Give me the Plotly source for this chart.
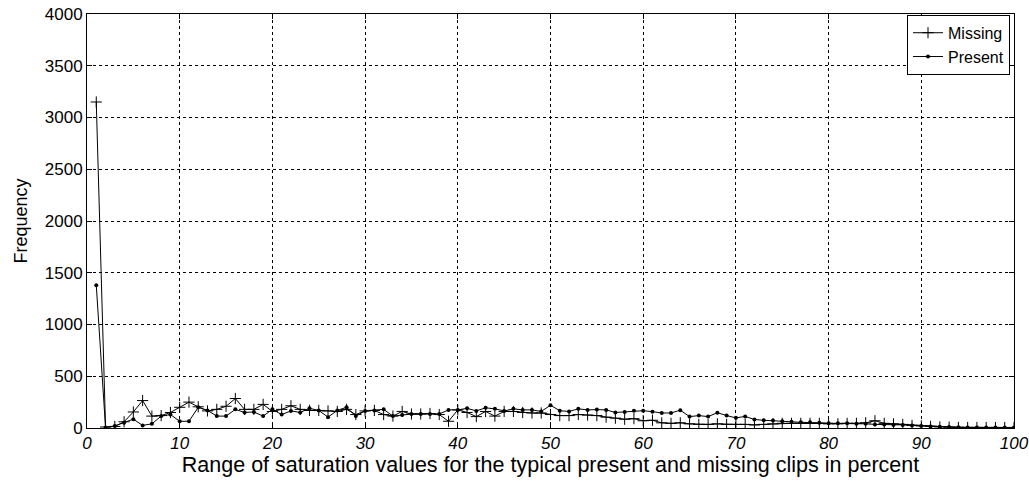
import plotly.graph_objects as go

x_values = list(range(1, 101))

missing = [3150, 10, 15, 60, 155, 265, 115, 120, 150, 200,
           250, 205, 165, 180, 210, 285, 180, 180, 228, 160,
           180, 215, 180, 170, 170, 165, 160, 180, 130, 165,
           170, 130, 115, 160, 135, 135, 140, 130, 65, 175,
           150, 110, 160, 115, 160, 160, 150, 145, 145, 130,
           120, 120, 130, 125, 120, 105, 95, 85, 90, 70,
           75, 50, 45, 50, 40, 35, 35, 40, 35, 35,
           35, 30, 35, 40, 45, 45, 45, 45, 45, 40,
           40, 45, 45, 50, 70, 45, 40, 35, 25, 20,
           15, 10, 8, 6, 5, 5, 5, 5, 5, 5]

present = [1380, 5, 20, 50, 85, 25, 40, 115, 130, 65,
           65, 200, 170, 115, 115, 180, 150, 155, 115, 180,
           130, 165, 150, 190, 170, 105, 170, 200, 115, 165,
           170, 180, 115, 125, 135, 135, 135, 135, 175, 175,
           190, 165, 195, 185, 165, 185, 175, 175, 160, 220,
           167, 160, 185, 175, 178, 175, 150, 155, 167, 167,
           158, 145, 145, 172, 110, 120, 110, 148, 120, 98,
           112, 82, 75, 72, 65, 60, 55, 55, 50, 45,
           45, 45, 40, 40, 35, 35, 30, 30, 25, 20,
           15, 12, 10, 8, 6, 5, 5, 5, 5, 5]

x_ticks = list(range(0, 101, 10))
y_ticks = list(range(0, 4001, 500))

FONT = "Liberation Sans, Arial"

fig = go.Figure()
fig.add_trace(go.Scatter(
    x=x_values, y=missing, name="Missing", mode="lines+markers",
    line=dict(color="black", width=1),
    marker=dict(symbol="cross-thin", size=8, line=dict(color="black", width=1), color="black"),
))
fig.add_trace(go.Scatter(
    x=x_values, y=present, name="Present", mode="lines+markers",
    line=dict(color="black", width=1),
    marker=dict(symbol="circle", size=4, color="black"),
))

axis_common = dict(
    showline=True, mirror="ticks", linecolor="black", linewidth=1,
    ticks="inside", ticklen=5, tickcolor="black",
    showgrid=True, gridcolor="black", gridwidth=1, griddash="3px,3px",
    zeroline=False, automargin=False, ticklabeloverflow="allow",
)

fig.update_xaxes(
    range=[0, 100], tickvals=x_ticks,
    tickfont=dict(family=FONT, size=17, color="black", style="italic"),
    title=dict(text="Range of saturation values for the typical present and missing clips in percent",
               font=dict(family=FONT, size=21.5, color="black"), standoff=1),
    **axis_common,
)
fig.update_yaxes(
    range=[0, 4000], tickvals=y_ticks,
    tickfont=dict(family=FONT, size=17, color="black"),
    title=dict(text="Frequency", font=dict(family=FONT, size=18, color="black"), standoff=12),
    **axis_common,
)

fig.update_layout(
    width=1029, height=485,
    margin=dict(l=87, r=15, t=14, b=57),
    paper_bgcolor="white", plot_bgcolor="white",
    showlegend=True,
    legend=dict(
        x=0.9957, y=0.998, xanchor="right", yanchor="top",
        bgcolor="white", bordercolor="black", borderwidth=1,
        font=dict(family=FONT, size=16, color="black"),
        tracegroupgap=0, itemwidth=30, entrywidth=80,
    ),
)

fig.write_html(
    "out.html",
    config={"displayModeBar": False},
    post_script="document.body.style.margin='0';document.body.style.overflow='hidden';",
)
